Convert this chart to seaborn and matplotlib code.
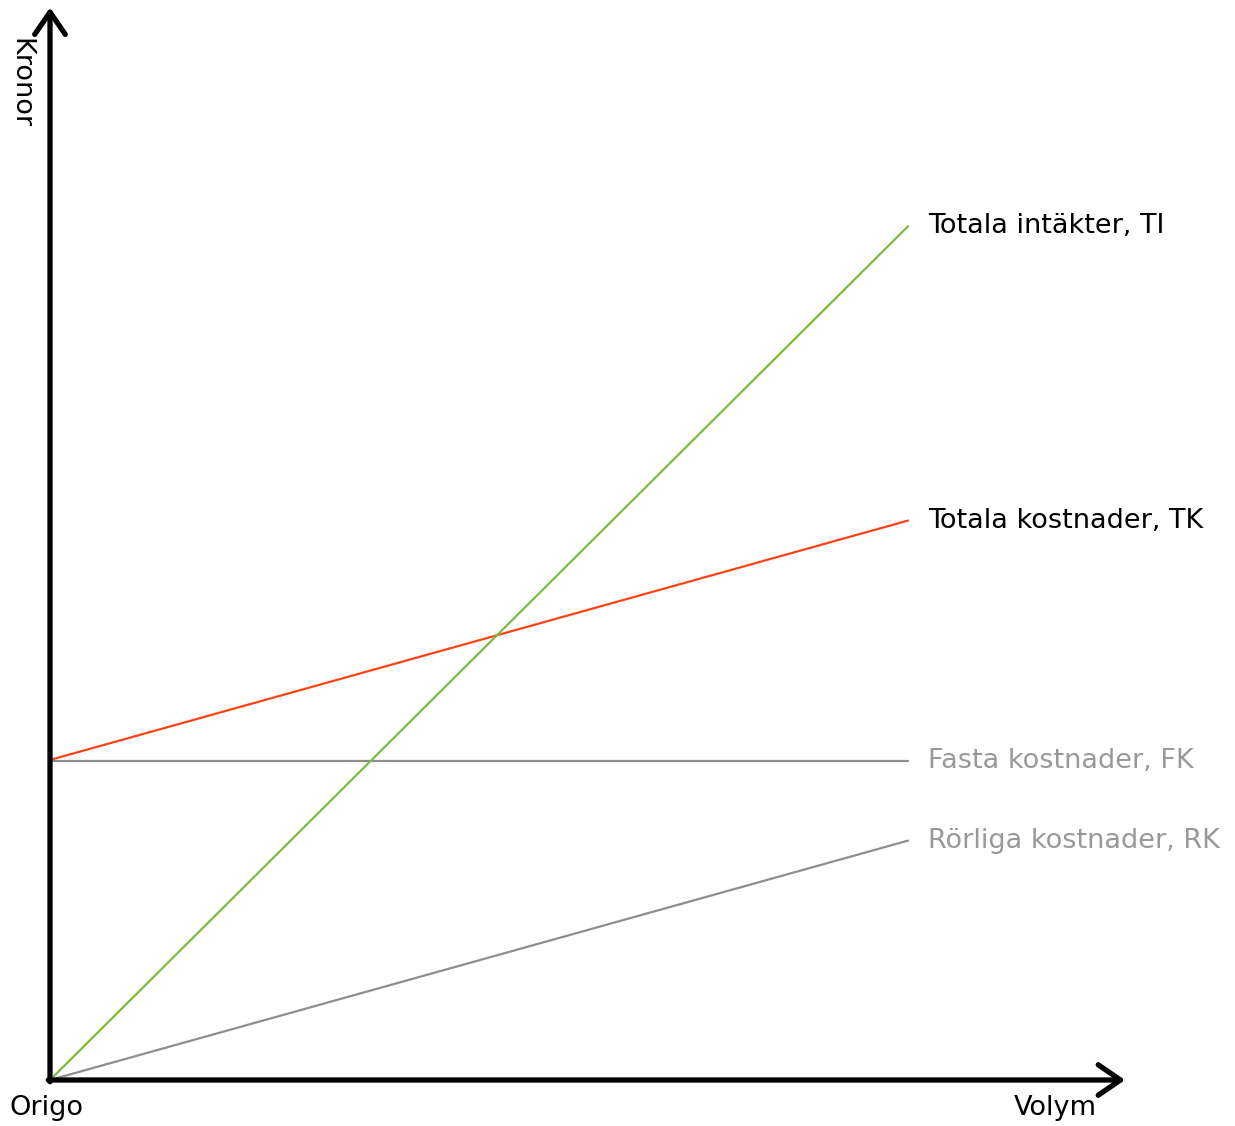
import matplotlib
matplotlib.use("Agg")
import matplotlib.pyplot as plt
import seaborn as sns
import pandas as pd

# Data (volume vs kronor)
volym = [0, 100]
totala_intakter = [0, 99.5]
totala_kostnader = [37.3, 65.2]
fasta_kostnader = [37.2, 37.2]
rorliga_kostnader = [0, 27.9]

labels = ["Totala intäkter, TI", "Totala kostnader, TK",
          "Fasta kostnader, FK", "Rörliga kostnader, RK"]
line_colors = ["#7dbb42", "#ff4114", "#8e8e8e", "#8e8e8e"]
text_colors = ["#000000", "#000000", "#999999", "#999999"]

sns.set_style("white")
plt.rcParams["font.family"] = ["DejaVu Sans"]
plt.rcParams["text.color"] = "black"

W, H = 1235, 1126
FS = 19.5
fig = plt.figure(figsize=(W / 100, H / 100), dpi=100)
ax = fig.add_axes([50 / W, 46 / H, 1072.5 / W, 1072.5 / H])

series = [totala_intakter, totala_kostnader, fasta_kostnader, rorliga_kostnader]
for vals, lab, col, tcol in zip(series, labels, line_colors, text_colors):
    df = pd.DataFrame({"volym": volym, "kronor": vals})
    sns.lineplot(data=df, x="volym", y="kronor", color=col, linewidth=1.6, ax=ax)
    ax.text(102.3, vals[-1], lab, color=tcol, fontsize=FS, va="center", ha="left")

# green line above the red one
ax.lines[0].set_zorder(3)

ax.set_xlim(0, 125)
ax.set_ylim(0, 125)
ax.set_xticks([])
ax.set_yticks([])
ax.set_xlabel("")
ax.set_ylabel("")
for s in ax.spines.values():
    s.set_visible(False)

# Axis arrows
arrow = dict(arrowstyle="->,head_length=0.8,head_width=0.55", lw=3.8,
             color="black", mutation_scale=20, shrinkA=0, shrinkB=0)
ax.annotate("", xy=(125.3, 0), xytext=(-0.2, 0), arrowprops=arrow,
            annotation_clip=False)
ax.annotate("", xy=(0, 125.0), xytext=(0, -0.2), arrowprops=arrow,
            annotation_clip=False)

fig.text(20 / W, 1 - 38 / H, "Kronor", rotation=-90, fontsize=FS,
         ha="center", va="top", color="black")
fig.text(46 / W, 1 - 1108 / H, "Origo", fontsize=FS, ha="center", va="center",
         color="black")
fig.text(1055 / W, 1 - 1108 / H, "Volym", fontsize=FS, ha="center", va="center",
         color="black")

fig.savefig("out.png", dpi=100, facecolor="white")
